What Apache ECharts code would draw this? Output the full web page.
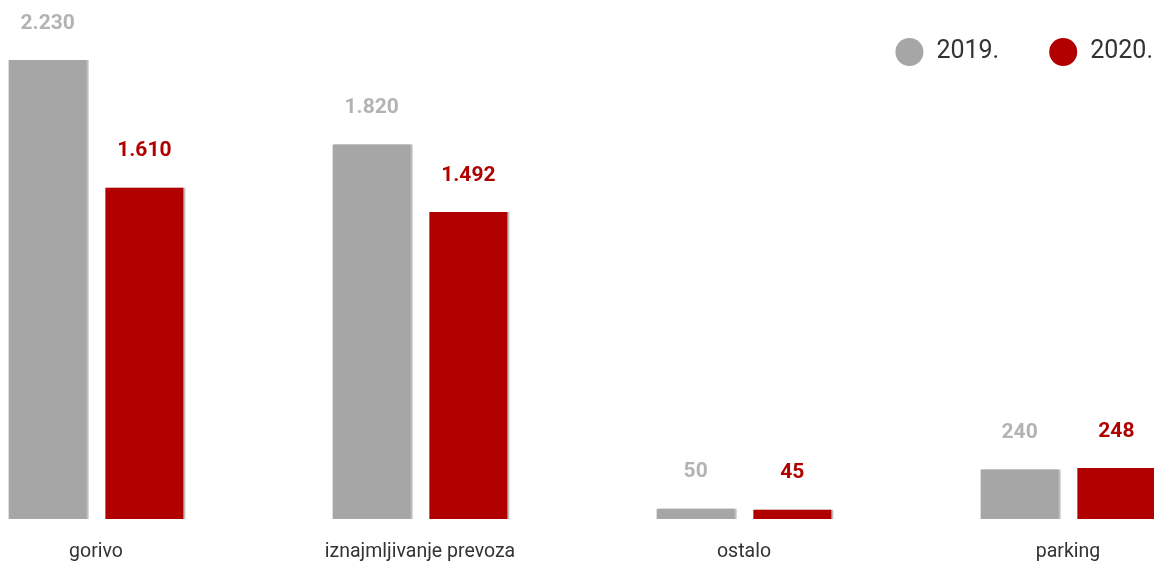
<!DOCTYPE html>
<html><head><meta charset="utf-8">
<script src="https://cdn.jsdelivr.net/npm/echarts@6/dist/echarts.min.js"></script>
<style>html,body{margin:0;padding:0;background:#fff}#c{width:1154px;height:564px}</style>
</head><body><div id="c"></div>
<script>
const categories = ['gorivo', 'iznajmljivanje prevoza', 'ostalo', 'parking'];
const seriesNames = ['2019.', '2020.'];
const values2019 = [2230, 1820, 50, 240];
const values2020 = [1610, 1492, 45, 248];

function fmt(v){ return String(v).replace(/\B(?=(\d{3})+(?!\d))/g, '.'); }

const chart = echarts.init(document.getElementById('c'));
const FONT = 'Roboto';
chart.setOption({
  animation: false,
  textStyle: {fontFamily: FONT},
  legend: {
    data: seriesNames, right: -4, top: 33, icon: 'circle',
    itemWidth: 28, itemHeight: 28, itemGap: 50,
    textStyle: {fontSize: 25, color: '#333', fontFamily: FONT, padding: [0,0,0,8]}
  },
  grid: {left: -66, right: -76, top: 4.5, bottom: 45, containLabel: false, outerBoundsMode: 'none'},
  xAxis: {
    type: 'category', data: categories,
    axisLine: {show: false}, axisTick: {show: false},
    axisLabel: {fontSize: 19.5, color: '#333', margin: 23, fontFamily: FONT}
  },
  yAxis: {type: 'value', min: 0, max: 2500, show: false, splitLine: {show: false}},
  series: [
    {
      name: seriesNames[0], type: 'bar', data: values2019,
      barWidth: 78, barGap: '24%',
      itemStyle: {color: '#a6a6a6', shadowColor: 'rgba(0,0,0,0.25)', shadowOffsetX: 2, shadowBlur: 0},
      label: {show: true, position: 'top', distance: 26, color: '#b3b3b3', fontSize: 21, fontWeight: 'bold', fontFamily: FONT, formatter: p => fmt(p.value)}
    },
    {
      name: seriesNames[1], type: 'bar', data: values2020,
      barWidth: 78,
      itemStyle: {color: '#b00000', shadowColor: 'rgba(0,0,0,0.25)', shadowOffsetX: 2, shadowBlur: 0},
      label: {show: true, position: 'top', distance: 26, color: '#b00000', fontSize: 21, fontWeight: 'bold', fontFamily: FONT, formatter: p => fmt(p.value)}
    }
  ]
});
</script></body></html>
